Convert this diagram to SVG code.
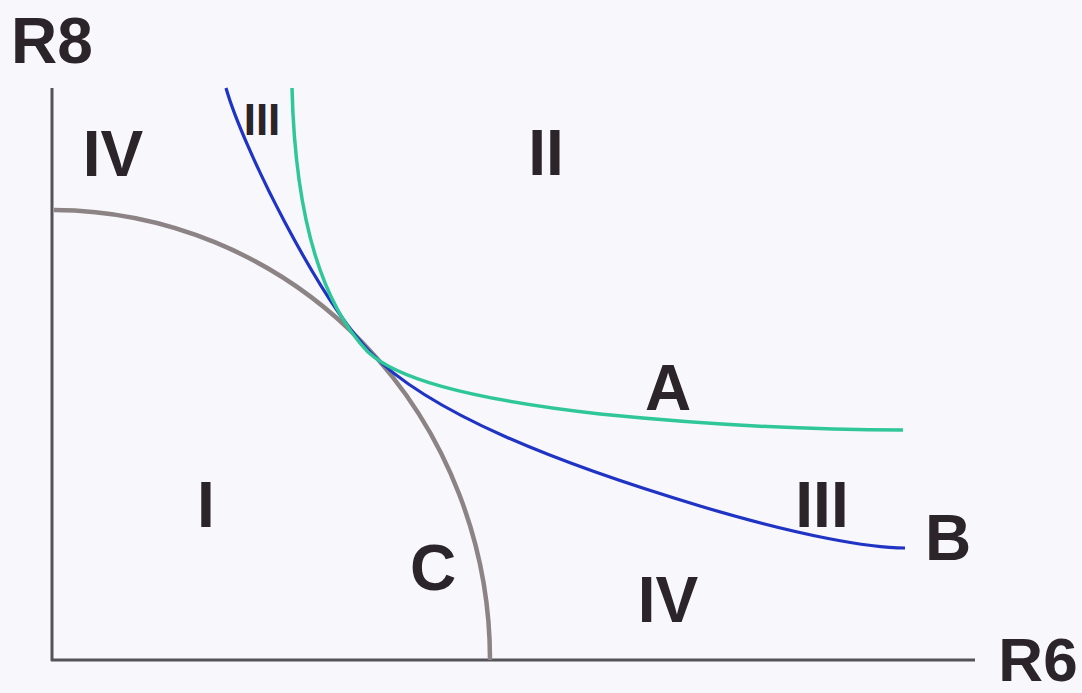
<svg xmlns="http://www.w3.org/2000/svg" width="1082" height="693" viewBox="0 0 1082 693">
  <style>
    .lbl { font-family: "Liberation Sans", Arial, sans-serif; font-weight: bold; fill: #2b2428; text-anchor: middle; }
    .big { font-size: 64px; }
    .small { font-size: 44px; }
    .axis { stroke: #55535a; stroke-width: 3; fill: none; }
    .curveC { stroke: #8b8384; stroke-width: 4.5; fill: none; }
    .curveA { stroke: #2fc79a; stroke-width: 3.5; fill: none; }
    .curveB { stroke: #1f33c4; stroke-width: 3.2; fill: none; }
  </style>
  <rect width="1082" height="693" fill="#f8f7fb"/>
  <g id="axes">
    <line class="axis" x1="52" y1="88" x2="52" y2="661"/>
    <line class="axis" x1="51" y1="660" x2="975" y2="660"/>
    <text class="lbl big" x="52" y="63">R8</text>
    <text class="lbl" x="1038" y="681" font-size="62">R6</text>
  </g>
  <g id="connectors">
    <path id="curve-C" class="curveC" d="M54,210 A438,450 0 0 1 490,660"/>
    <path id="curve-B" class="curveB" d="M226,88 C243,148 318,298 370,352 C430,414 560,464 700,506 C800,536 870,548 905,548"/>
    <path id="curve-A" class="curveA" d="M292,88 C295,210 318,300 368,352 C395,377 460,398 600,414 C720,426 830,430 903,430"/>
  </g>
  <g id="region-IV-top"><text class="lbl big" x="113" y="176">IV</text></g>
  <g id="region-III-top"><text class="lbl small" x="262" y="135">III</text></g>
  <g id="region-II"><text class="lbl big" x="546" y="175">II</text></g>
  <g id="label-A"><text class="lbl big" x="668" y="410">A</text></g>
  <g id="region-III-right"><text class="lbl big" x="822" y="527">III</text></g>
  <g id="label-B"><text class="lbl big" x="948" y="560">B</text></g>
  <g id="region-I"><text class="lbl big" x="206" y="527">I</text></g>
  <g id="label-C"><text class="lbl big" x="433" y="590">C</text></g>
  <g id="region-IV-bottom"><text class="lbl big" x="668" y="622">IV</text></g>
</svg>
